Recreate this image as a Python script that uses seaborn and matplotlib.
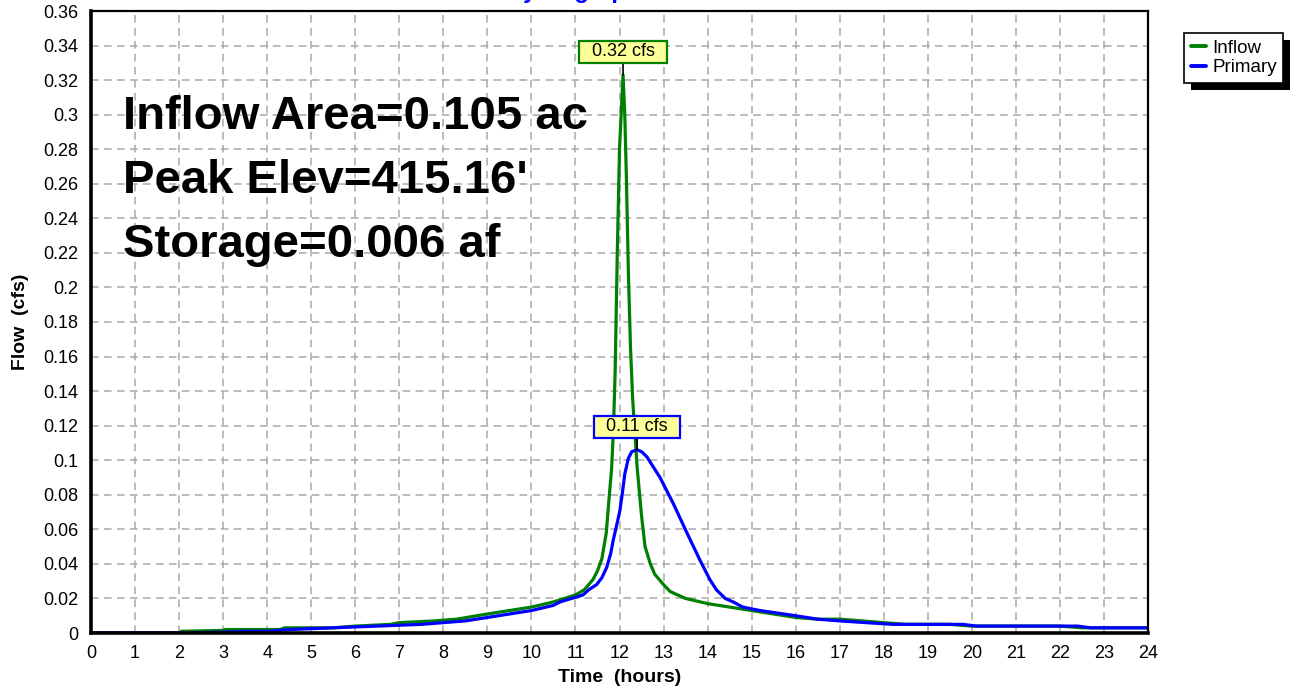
import numpy as np
import pandas as pd
import matplotlib
matplotlib.use("Agg")
import matplotlib.pyplot as plt
from matplotlib.ticker import MultipleLocator, FuncFormatter
from matplotlib.patches import Rectangle
from matplotlib.lines import Line2D
import seaborn as sns

# Hydrograph series (time in hours, flow in cfs)
inflow_t = [0, 2, 2.05, 3, 3.05, 4.3, 4.4, 5.5, 6, 6.8, 7, 7.8, 8.3, 9, 9.5, 10,
            10.5, 11, 11.2, 11.4, 11.5, 11.6, 11.7, 11.76, 11.82, 11.86, 11.9,
            11.95, 12.0, 12.08, 12.12, 12.16, 12.2, 12.25, 12.3, 12.4, 12.5,
            12.58, 12.7, 12.8, 13.0, 13.15, 13.5, 14.0, 14.5, 15.0, 15.5, 16,
            16.5, 17, 17.5, 18, 18.5, 19.5, 20, 22, 22.5, 24]
inflow_q = [0, 0, 0.001, 0.0015, 0.002, 0.002, 0.003, 0.003, 0.004, 0.005, 0.006,
            0.007, 0.008, 0.011, 0.013, 0.015, 0.018, 0.022, 0.025, 0.031, 0.036,
            0.043, 0.058, 0.077, 0.095, 0.116, 0.15, 0.22, 0.28, 0.323, 0.30,
            0.26, 0.21, 0.165, 0.135, 0.096, 0.068, 0.05, 0.04, 0.034, 0.028,
            0.024, 0.020, 0.017, 0.015, 0.013, 0.011, 0.009, 0.008, 0.008, 0.007,
            0.006, 0.005, 0.005, 0.004, 0.004, 0.003, 0.003]

primary_t = [0, 2, 3, 3.5, 4, 4.5, 5.5, 6.5, 7.5, 8.5, 9, 9.5, 10, 10.5, 10.65,
             11.17, 11.3, 11.48, 11.6, 11.71, 11.8, 11.86, 11.95, 12.01, 12.07,
             12.12, 12.2, 12.28, 12.4, 12.5, 12.62, 12.92, 13.22, 13.53, 13.83,
             14.05, 14.2, 14.4, 14.58, 14.8, 15.19, 16, 16.5, 17, 17.6, 18.2,
             19.8, 20.1, 22.4, 22.7, 24]
primary_q = [0, 0, 0.0005, 0.001, 0.001, 0.002, 0.003, 0.004, 0.005, 0.007, 0.009,
             0.011, 0.013, 0.016, 0.018, 0.022, 0.025, 0.028, 0.032, 0.038, 0.046,
             0.054, 0.064, 0.071, 0.082, 0.092, 0.101, 0.105, 0.106, 0.105, 0.102,
             0.090, 0.075, 0.058, 0.042, 0.031, 0.025, 0.020, 0.018, 0.015, 0.013,
             0.010, 0.008, 0.007, 0.006, 0.005, 0.005, 0.004, 0.004, 0.003, 0.003]

series_names = ["Inflow", "Primary"]
series_colors = {"Inflow": "#008000", "Primary": "#0000ff"}
info_lines = ["Inflow Area=0.105 ac", "Peak Elev=415.16'", "Storage=0.006 af"]
title_text = "Hydrograph"
x_label = "Time  (hours)"
y_label = "Flow  (cfs)"

sns.set_style("white")
plt.rcParams["font.family"] = ["Liberation Sans", "DejaVu Sans"]
plt.rcParams.update({"text.color": "black", "axes.labelcolor": "black",
                     "xtick.color": "black", "ytick.color": "black"})

df = pd.concat([
    pd.DataFrame({"t": inflow_t, "flow": inflow_q, "series": "Inflow"}),
    pd.DataFrame({"t": primary_t, "flow": primary_q, "series": "Primary"}),
], ignore_index=True)

W, H = 1294, 690
fig = plt.figure(figsize=(W / 100, H / 100), dpi=100)
ax = fig.add_axes([91 / W, 57 / H, (1148 - 91) / W, (633 - 11) / H])

sns.lineplot(data=df, x="t", y="flow", hue="series", hue_order=series_names,
             palette=series_colors, estimator=None, sort=False, lw=2.3,
             legend=False, ax=ax, zorder=3)

ax.set_xlim(0, 24)
ax.set_ylim(0, 0.36)
ax.xaxis.set_major_locator(MultipleLocator(1))
ax.xaxis.set_minor_locator(MultipleLocator(0.25))
ax.yaxis.set_major_locator(MultipleLocator(0.02))
ax.yaxis.set_minor_locator(MultipleLocator(0.004))
ax.yaxis.set_major_formatter(FuncFormatter(lambda v, p: f"{round(v, 4):g}"))
ax.tick_params(which="major", direction="out", length=6, width=1.2,
               color="black", labelsize=13, pad=3, labelcolor="black")
ax.tick_params(which="minor", direction="out", length=3.5, width=1.0, color="#444444")

ax.grid(True, which="major", color="#a8a8a8", lw=1.1, linestyle=(0, (5, 3.5)))
for side in ["left", "bottom"]:
    ax.spines[side].set_linewidth(2.6)
for side in ["top", "right"]:
    ax.spines[side].set_linewidth(1.6)
for s in ax.spines.values():
    s.set_color("black")
    s.set_zorder(4)

ax.set_xlabel(x_label, fontsize=14, fontweight="bold", labelpad=5, color="black")
ax.set_ylabel(y_label, fontsize=14, fontweight="bold", labelpad=10, color="black")

# Summary text block
for i, line in enumerate(info_lines):
    ax.text(123 / W, 1 - (117 + 64 * i) / H, line, transform=fig.transFigure,
            fontsize=34, fontweight="bold", va="center", ha="left", zorder=2,
            color="black")

# Peak callouts
for t_arr, q_arr, name in [(inflow_t, inflow_q, "Inflow"), (primary_t, primary_q, "Primary")]:
    k = int(np.argmax(q_arr))
    ax.annotate(f"  {q_arr[k]:.2f} cfs  ", xy=(t_arr[k], q_arr[k]), xytext=(0, 23),
                textcoords="offset pixels", ha="center", va="center", fontsize=13,
                color="black",
                bbox=dict(boxstyle="square,pad=0.12", fc="#ffff99",
                          ec=series_colors[name], lw=1.6),
                arrowprops=dict(arrowstyle="-", color="black", lw=1.2,
                                shrinkA=0, shrinkB=0), zorder=5)

# Title along the top edge
fig.text(574 / W, 1 + 1.5 / H, title_text, color="#0000ff", fontsize=17,
         fontweight="bold", ha="center", va="baseline")

# Legend with a solid drop shadow
handles = [Line2D([], [], color=series_colors[n], lw=2.8) for n in series_names]
leg = fig.legend(handles, series_names, loc="upper left",
                 bbox_to_anchor=(1184 / W, 1 - 33 / H), fontsize=13.5,
                 frameon=True, fancybox=False, edgecolor="black", framealpha=1,
                 facecolor="white", handlelength=0.8, handletextpad=0.35,
                 borderpad=0.35, labelspacing=0.12, borderaxespad=0)
leg.get_frame().set_linewidth(1.2)
for txt in leg.get_texts():
    txt.set_color("black")
leg.set_zorder(6)
fig.canvas.draw()
bb = leg.get_window_extent()
fig.patches.append(Rectangle((bb.x0 + 7, bb.y0 - 7), bb.width, bb.height,
                             transform=None, fc="black", ec="none", zorder=5,
                             figure=fig))

fig.savefig("out.png", dpi=100)
